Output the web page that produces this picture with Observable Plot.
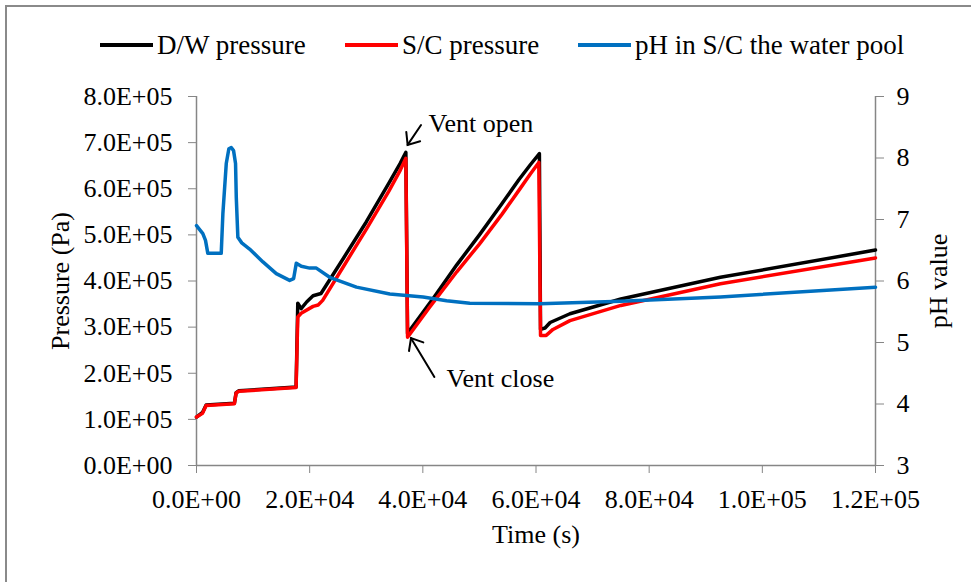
<!DOCTYPE html>
<html>
<head>
<meta charset="utf-8">
<script src="https://cdn.jsdelivr.net/npm/d3@7"></script>
<script src="https://cdn.jsdelivr.net/npm/@observablehq/plot@0.6"></script>
<style>
  html, body { margin: 0; padding: 0; background: #fff; }
  #wrap { position: relative; width: 971px; height: 582px; overflow: hidden; font-family: "Liberation Serif", "Times New Roman", serif; }
  #frame { position: absolute; left: 5px; top: 5px; width: 1200px; height: 1200px; border: 2px solid #8a8a8a; box-sizing: border-box; }
  #chart { position: absolute; left: 0; top: 0; }
  .leg { position: absolute; top: 31px; height: 28px; display: flex; align-items: center; font-size: 27px; color: #000; white-space: nowrap; }
  .leg .sw { display: inline-block; width: 53px; height: 4px; margin-right: 4px; }
</style>
</head>
<body>
<div id="wrap">
  <div id="frame"></div>
  <div id="chart"></div>
  <div id="legend"></div>
</div>
<script>
// ---- data ----
const seriesNames = ["D/W pressure", "S/C pressure", "pH in S/C the water pool"];
const seriesColors = ["#000000", "#ff0000", "#0070c0"];

const dwTime = [0, 1060, 1700, 6700, 7000, 7500, 17600, 17900, 18500, 19500, 20600, 22000, 26000, 30000, 34000, 36000, 37000, 37300, 37700, 42000, 46000, 50000, 54000, 57000, 59000, 60600, 60800, 61600, 62500, 66000, 75000, 92600, 120000];
const dwPressure = [105000, 115000, 131000, 135000, 158000, 162000, 170000, 352000, 340000, 355000, 368000, 373000, 450000, 528000, 612000, 655000, 679000, 286000, 293000, 365000, 435000, 500000, 568000, 620000, 652000, 676000, 295000, 298000, 310000, 329000, 361000, 408000, 467000];

const scTime = [0, 1060, 1700, 6700, 7000, 7500, 17600, 17900, 18500, 20600, 21500, 22300, 26000, 30000, 34000, 36000, 37000, 37300, 41000, 46000, 50000, 54000, 57000, 59000, 60500, 60800, 61800, 63000, 66000, 75000, 92600, 120000];
const scPressure = [105000, 113000, 130000, 134000, 157000, 161000, 169000, 322000, 330000, 345000, 348000, 358000, 432000, 512000, 595000, 640000, 666000, 278000, 340000, 420000, 480000, 545000, 597000, 632000, 657000, 282000, 282000, 295000, 314000, 347000, 394000, 450000];

const phTime = [0, 1120, 1590, 2000, 4370, 4660, 5260, 5720, 6140, 6550, 6900, 7030, 7310, 8000, 9380, 11740, 14100, 16460, 17170, 17640, 18530, 20000, 21180, 23540, 28270, 34160, 40050, 44200, 48300, 60700, 75000, 92600, 120000];
const phValue = [6.90, 6.77, 6.66, 6.45, 6.45, 7.09, 7.91, 8.15, 8.17, 8.12, 7.91, 7.36, 6.71, 6.62, 6.52, 6.31, 6.12, 6.01, 6.04, 6.29, 6.24, 6.21, 6.21, 6.06, 5.90, 5.79, 5.74, 5.68, 5.64, 5.63, 5.67, 5.74, 5.90];

const xTicks = [0, 20000, 40000, 60000, 80000, 100000, 120000];
const pTicks = [0, 100000, 200000, 300000, 400000, 500000, 600000, 700000, 800000];
const phTicks = [3, 4, 5, 6, 7, 8, 9];

const annotText = ["Vent open", "Vent close"];
const annotTextT = [41000, 44200];
const annotTextP = [741000, 189000];
const arrowFromT = [39770, 42130];
const arrowFromP = [737000, 191000];
const arrowToT = [37400, 38000];
const arrowToP = [694000, 275000];

// ---- helpers ----
const pMax = 800000, phMin = 3, phMax = 9;
const phToP = v => (v - phMin) / (phMax - phMin) * pMax;
const pToPh = p => phMin + p / pMax * (phMax - phMin);
function sci(v) {
  if (v === 0) return "0.0E+00";
  const e = Math.floor(Math.log10(Math.abs(v)) + 1e-9);
  const m = v / Math.pow(10, e);
  return m.toFixed(1) + "E+" + String(e).padStart(2, "0");
}

const dw = dwTime.map((t, i) => ({t, p: dwPressure[i]}));
const sc = scTime.map((t, i) => ({t, p: scPressure[i]}));
const ph = phTime.map((t, i) => ({t, p: phToP(phValue[i])}));
const annots = annotText.map((s, i) => ({s, t: annotTextT[i], p: annotTextP[i]}));
const arrows = arrowFromT.map((t, i) => ({x1: t, y1: arrowFromP[i], x2: arrowToT[i], y2: arrowToP[i]}));

// open "V" arrowheads drawn through Plot's own scales
function arrowMark(index, scales) {
  const g = d3.create("svg:g").attr("stroke", "#000").attr("stroke-width", 2).attr("fill", "none").attr("stroke-linecap", "round");
  const arm = 13, half = 40 * Math.PI / 180;
  for (const a of arrows) {
    const x1 = scales.x(a.x1), y1 = scales.y(a.y1), x2 = scales.x(a.x2), y2 = scales.y(a.y2);
    const ang = Math.atan2(y1 - y2, x1 - x2);
    g.append("line").attr("x1", x1).attr("y1", y1).attr("x2", x2).attr("y2", y2);
    const p = [ang - half, ang + half].map(t => [x2 + arm * Math.cos(t), y2 + arm * Math.sin(t)]);
    g.append("path").attr("d", `M${p[0][0]},${p[0][1]}L${x2},${y2}L${p[1][0]},${p[1][1]}`).attr("stroke-linejoin", "miter");
  }
  return g.node();
}

const axisColor = "#868686";

const chart = Plot.plot({
  width: 971,
  height: 582,
  marginLeft: 196,
  marginRight: 96,
  marginTop: 96,
  marginBottom: 117,
  x: {domain: [0, 120000]},
  y: {domain: [0, pMax]},
  style: {fontFamily: "'Liberation Serif', 'Times New Roman', serif", fontSize: "26px", color: "#000", background: "transparent", overflow: "visible"},
  marks: [
    Plot.ruleX([0, 120000], {stroke: axisColor, strokeWidth: 1.5}),
    Plot.ruleY([0], {stroke: axisColor, strokeWidth: 1.5}),
    Plot.axisX({ticks: xTicks, tickFormat: sci, tickSize: 8, tickPadding: 16, stroke: axisColor, fill: "#000", fontSize: 26, label: null}),
    Plot.axisY({ticks: pTicks, tickFormat: sci, tickSize: 8, tickPadding: 16, stroke: axisColor, fill: "#000", fontSize: 26, label: null}),
    Plot.axisY({anchor: "right", ticks: phTicks.map(phToP), tickFormat: p => String(Math.round(pToPh(p))), tickSize: 8, tickPadding: 13, stroke: axisColor, fill: "#000", fontSize: 26, label: null}),
    Plot.text(["Pressure (Pa)"], {frameAnchor: "left", textAnchor: "middle", rotate: -90, dx: -136, fontSize: 26, fill: "#000"}),
    Plot.text(["pH value"], {frameAnchor: "right", textAnchor: "middle", rotate: -90, dx: 63, fontSize: 26, fill: "#000"}),
    Plot.text(["Time (s)"], {frameAnchor: "bottom", dy: 77, fontSize: 26, fill: "#000"}),
    Plot.line(dw, {x: "t", y: "p", stroke: seriesColors[0], strokeWidth: 3.5, strokeLinejoin: "round"}),
    Plot.line(sc, {x: "t", y: "p", stroke: seriesColors[1], strokeWidth: 3.5, strokeLinejoin: "round"}),
    Plot.line(ph, {x: "t", y: "p", stroke: seriesColors[2], strokeWidth: 3.5, strokeLinejoin: "round"}),
    arrowMark,
    Plot.text(annots, {x: "t", y: "p", text: "s", textAnchor: "start", fontSize: 26, fill: "#000"})
  ]
});
document.getElementById("chart").appendChild(chart);

// legend
const legLeft = [100, 345, 578];
const legend = document.getElementById("legend");
seriesNames.forEach((name, i) => {
  const d = document.createElement("div");
  d.className = "leg";
  d.style.left = legLeft[i] + "px";
  const sw = document.createElement("span");
  sw.className = "sw";
  sw.style.background = seriesColors[i];
  const tx = document.createElement("span");
  tx.textContent = name;
  d.appendChild(sw);
  d.appendChild(tx);
  legend.appendChild(d);
});
</script>
</body>
</html>
